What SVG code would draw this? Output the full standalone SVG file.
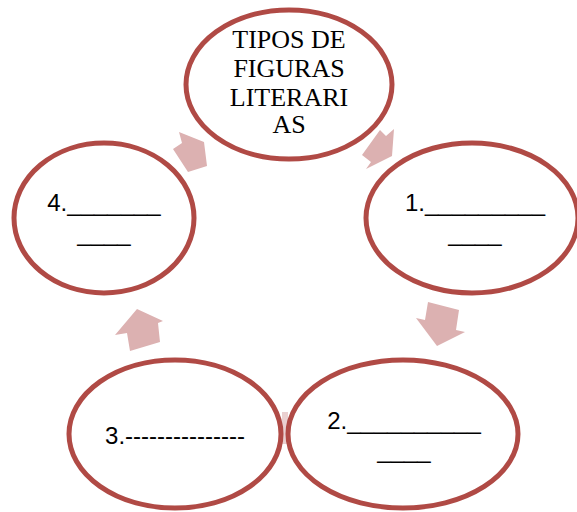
<svg xmlns="http://www.w3.org/2000/svg" width="577" height="512" viewBox="0 0 577 512">
<style>
.node{fill:#ffffff;stroke:#b04a45;stroke-width:5}
.arr{fill:#dcb1b1}
.serif{font-family:"Liberation Serif","Times New Roman",serif;font-size:26px;fill:#000;text-anchor:middle}
.sans{font-family:"Liberation Sans",Arial,sans-serif;font-size:24px;fill:#000;text-anchor:middle}
</style>
<rect width="577" height="512" fill="#ffffff"/>
<g id="connectors">
<polygon class="arr" points="179,132 204,142 207,166 188,172 173,149 182,143"/>
<polygon class="arr" points="380,130 386,136 394,129 392,156 366,169 371,162 362,155"/>
<polygon class="arr" points="428,302 459,310 456,330 465,332 437,346 416,318 425,320"/>
<polygon class="arr" points="137,309 163,321 158,323 160,342 130,351 127,333 115,335"/>
<rect class="arr" x="282" y="412" width="6" height="32" opacity="0.6"/>
</g>
<g id="node-top">
<ellipse class="node" cx="289" cy="84.5" rx="103" ry="74.5"/>
<text class="serif" x="289" y="48">TIPOS DE</text>
<text class="serif" x="289" y="77">FIGURAS</text>
<text class="serif" x="289" y="106">LITERARI</text>
<text class="serif" x="289" y="133">AS</text>
</g>
<g id="node-1">
<ellipse class="node" cx="472" cy="218" rx="106" ry="75"/>
<text class="sans" x="475" y="211">1._________</text>
<text class="sans" x="475" y="241">____</text>
</g>
<g id="node-2">
<ellipse class="node" cx="403" cy="434" rx="115" ry="74"/>
<text class="sans" x="404" y="429">2.__________</text>
<text class="sans" x="404" y="458">____</text>
</g>
<g id="node-3">
<ellipse class="node" cx="175" cy="434" rx="106" ry="74"/>
<text class="sans" x="175" y="444">3.---------------</text>
</g>
<g id="node-4">
<ellipse class="node" cx="104" cy="218" rx="90" ry="75"/>
<text class="sans" x="104" y="211">4._______</text>
<text class="sans" x="104" y="241">____</text>
</g>
</svg>
